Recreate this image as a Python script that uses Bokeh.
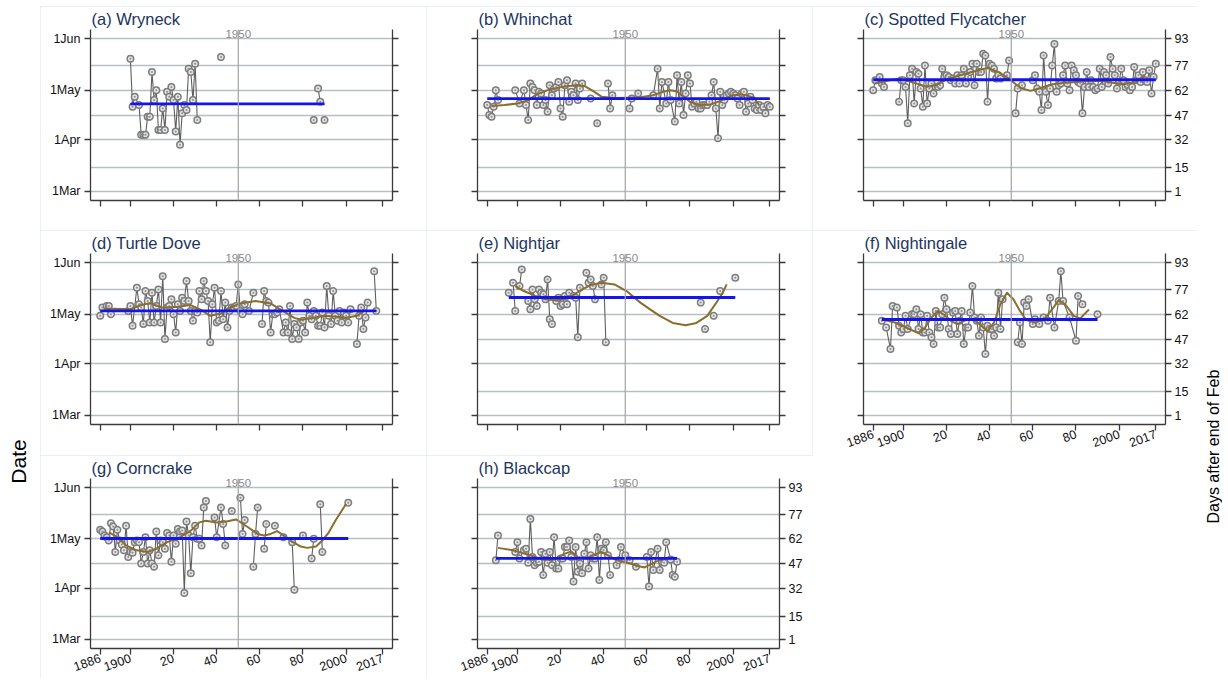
import math
import numpy as np
from bokeh.plotting import figure
from bokeh.models import FixedTicker, LinearAxis, Span, Label, Range1d, Spacer
from bokeh.layouts import row, column
from bokeh.embed import file_html
from bokeh.resources import INLINE
from bokeh.core.properties import value

FONT = "Liberation Sans"
N = None

# ---------------- axes / labels ----------------
X_TICKS = [1886, 1900, 1920, 1940, 1960, 1980, 2000, 2017]
X_TICK_LABELS = ["1886", "1900", "20", "40", "60", "80", "2000", "2017"]
DATE_TICKS = [1, 32, 62, 93]
DATE_LABELS = ["1Mar", "1Apr", "1May", "1Jun"]
DAY_TICKS = [1, 15, 32, 47, 62, 77, 93]
REF_YEAR = 1950

# ---------------- data (None = break in the connecting line) ----------------
a_title = "(a) Wryneck"
a_year = [1900, 1901, 1902, 1904, 1905, 1906, 1907, 1908, 1909, 1910, 1911, 1912, 1913, 1914, 1915,
          1916, 1917, 1918, 1919, 1920, 1921, 1922, 1923, 1924, 1925, 1926, 1927, 1928, 1929, 1930,
          1931, N, 1942, N, 1985, N, 1987, 1988, N, 1990]
a_day = [81, 52, 58, 53, 35, 35, 35, 46, 46, 73, 56, 62, 38, 38, 51,
         38, 61, 58, 64, 56, 37, 58, 29, 48, 53, 50, 75, 73, 56, 78,
         44, N, 82, N, 44, N, 63, 55, N, 44]
a_mean = 53.7
a_sm_year = []
a_sm_day = []

b_title = "(b) Whinchat"
b_year = ([1886, 1887, 1888, 1889, 1890, 1891, N, 1899, 1901, 1903] + list(range(1904, 1931)) +
          [N, 1934, N, 1937, N, 1942, 1943, 1944, N, 1952, 1953, N, 1956, N,
           1963, 1965, 1966, 1967, 1969, 1970, 1971, 1973] + list(range(1974, 2018)))
b_day = [53, 47, 46, 52, 62, 56, N, 62, 54, 62,
         53, 44, 66, 64, 62, 53, 61, 60, 53, 56, 49, 65, 59, 63, 64, 67, 51, 46, 65, 68,
         55, 61, 59, 66, 56, 63, 66,
         N, 57, N, 42, N, 66, 51, 59, N, 51, 57, N, 60, N,
         59, 75, 51, 67, 54, 67, 56, 43,
         71, 54, 67, 47, 60, 71, 66, 52, 54, 55, 51, 51, 53, 53, 53, 55, 59, 67, 51, 33,
         61, 53, 56, 59, 60, 61, 60, 59, 57, 53, 60, 61, 49, 54, 58, 56, 51, 50, 53, 50,
         52, 48, 53, 52]
b_mean = 56.9
b_sm_year = [1888, 1894, 1900, 1905, 1909, 1915, 1922, 1928, 1931, 1935, 1939, 1945, 1951, 1957,
             1963, 1968, 1971, 1974, 1977, 1980, 1985, 1990, 1994, 1999, 2003, 2007, 2010, 2012]
b_sm_day = [52.5, 53, 54, 56, 59.5, 62.5, 64.2, 65.2, 64.6, 61.6, 58.1, 57.3, 57.5, 57.7,
            59, 61.2, 62, 61.2, 58.1, 55, 52.9, 53.5, 55.5, 58.6, 59.6, 58.6, 57, 53]

c_title = "(c) Spotted Flycatcher"
c_year = ([1886, 1887, 1889, 1890, 1891, N] + list(range(1898, 1946)) +
          [1948, 1949, N, 1952, 1953, 1955, N] + list(range(1960, 2018)))
c_day = [62, 68, 70, 66, 64, N,
         55, 68, 68, 64, 42, 71, 75, 54, 73, 72, 63, 52, 77, 54, 63, 66, 60, 64, 64, 65,
         75, 70, 71, 70, 68, 69, 66, 71, 66, 71, 75, 66, 70, 73, 78, 65, 78, 73, 73, 84,
         83, 55, 78, 77, 75, 69, 71, 69,
         71, 80, N, 48, 63, 65, N,
         68, 71, 63, 61, 50, 83, 61, 53, 63, 77, 90, 61, 65, 66, 71, 77, 66, 62, 77, 74,
         71, 67, 66, 48, 64, 73, 64, 68, 64, 62, 63, 75, 64, 73, 71, 66, 82, 75, 71, 63,
         67, 75, 68, 64, 65, 62, 64, 76, 68, 71, 67, 73, 68, 67, 74, 60, 70, 78]
c_mean = 68.3
c_sm_year = [1887, 1892, 1898, 1905, 1911, 1916, 1920, 1926, 1931, 1936, 1939, 1944, 1948, 1952,
             1955, 1959, 1964, 1969, 1975, 1980, 1986, 1991, 1997, 2002, 2008, 2012]
c_sm_day = [66, 67.5, 69, 66.5, 64, 65.5, 68.5, 71, 72.7, 74.5, 75.4, 73, 69.7, 65.7,
            63, 61.6, 63.5, 65.6, 66.5, 67, 67.6, 67.7, 66.5, 65.6, 67, 71]

d_title = "(d) Turtle Dove"
d_year = ([1886, 1887, 1889, 1890, 1891, N, 1899, 1900, 1901] + list(range(1903, 1954)) +
          [1955, 1957, N] + list(range(1961, 1970)) + list(range(1971, 2003)) +
          [N] + list(range(2005, 2011)) + [N, 2013, 2014])
d_day = [61, 66, 67, 67, 62, N, 64, 67, 55,
         78, 68, 66, 56, 76, 70, 57, 75, 57, 67, 77, 57, 85, 47, 66, 67, 71, 62, 51, 68,
         64, 72, 70, 82, 70, 64, 58, 64, 63, 76, 71, 82, 76, 70, 45, 68, 78, 57, 58, 76,
         59, 69, 54, 64, 66, 66, 67, 80, 64, 62, 68,
         64, 75, N,
         56, 76, 70, 69, 51, 62, 62, 63, 65,
         51, 57, 51, 67, 47, 56, 54, 47, 57, 58, 51, 69, 61, 59, 64, 61, 55, 55, 63, 54,
         79, 61, 56, 76, 61, 58, 64, 57, 63, 61, 57, 65,
         N, 44, 61, 66, 53, 60, 69, N, 88, 64]
d_mean = 64.0
d_sm_year = [1888, 1900, 1905, 1909, 1915, 1922, 1928, 1933, 1937, 1942, 1946, 1951, 1958, 1965,
             1970, 1976, 1979, 1983, 1990, 1996, 2000, 2005, 2008]
d_sm_day = [65.4, 65, 67.5, 68.7, 65.9, 66.5, 67.5, 64.5, 61, 62.4, 65.9, 68.5, 70, 68.5,
            64.4, 59.8, 58.6, 59.4, 61, 60.4, 59.8, 61, 63.4]

e_title = "(e) Nightjar"
e_year = ([1896, N, 1898, 1899, N, 1901, 1902, N] + list(range(1905, 1917)) + [N] +
          list(range(1918, 1925)) + [1926, 1927, 1928, 1929, N] + list(range(1932, 1937)) +
          [N, 1939, 1940, 1941, N, 1985, N, 1987, N, 1991, N, 1994, N, 2001])
e_day = [75, N, 81, 64, N, 79, 89, N,
         70, 65, 77, 71, 67, 77, 75, 74, 71, 83, 59, 56, N,
         70, 72, 67, 68, 73, 68, 75, 73, 72, 48, 78, N,
         87, 81, 83, 79, 71,
         N, 80, 84, 45, N, 69, N, 53, N, 61, N, 76, N, 84]
e_mean = 72.1
e_sm_year = [1899, 1903, 1908, 1913, 1917, 1921, 1926, 1930, 1934, 1939, 1945, 1951, 1957, 1962,
             1966, 1972, 1978, 1983, 1988, 1992, 1995, 1997]
e_sm_day = [79, 76, 73.2, 71, 70.5, 71, 73.6, 77, 79.6, 81, 80, 75.6, 69, 64.5,
            61, 56.7, 55.3, 56.7, 61, 68.5, 74.5, 80]

f_title = "(f) Nightingale"
f_year = ([1890, 1892, 1894, 1895, 1897, 1898, 1899, 1900, 1901, 1902] + list(range(1904, 1947)) +
          [N, 1953, 1954, 1955, 1956, 1957, 1958, 1960, 1961, 1963, 1965, 1967, 1968, 1970,
           1972, 1973, 1974, 1977, 1980, 1981, 1983, N, 1990])
f_day = [58, 54, 41, 67, 66, 55, 51, 53, 61, 53,
         62, 62, 65, 53, 62, 51, 51, 61, 51, 48, 44, 64, 54, 54, 62, 72, 65, 53, 50, 63,
         64, 50, 58, 64, 44, 54, 54, 63, 79, 60, 58, 49, 60, 54, 38, 55, 53, 53, 49, 54,
         75, 53, 71,
         N, 45, 57, 44, 69, 67, 71, 56, 59, 56, 60, 58, 72, 54,
         70, 88, 70, 60, 46, 73, 68, N, 62]
f_mean = 58.8
f_sm_year = [1890, 1896, 1902, 1907, 1910, 1913, 1916, 1919, 1922, 1925, 1929, 1932, 1935, 1939,
             1942, 1945, 1948, 1951, 1954, 1957, 1961, 1965, 1969, 1972, 1975, 1979, 1982, 1986]
f_sm_day = [58.8, 57, 53.5, 50.5, 54, 60, 64, 61.5, 58, 56, 58.4, 59, 56.3, 51.7,
            57, 68, 75, 71, 64, 58.5, 57, 58.5, 65, 70.5, 68, 61, 59.5, 64.8]

g_title = "(g) Corncrake"
g_year = (list(range(1886, 1936)) +
          [N, 1939, 1940, 1942, 1943, 1944, N, 1947, N, 1951, 1952, 1953, N, 1957, 1958, 1959,
           N, 1962, 1963, N, 1967, N, 1971, N, 1975, 1976, N, 1980, N, 1984, 1985, N,
           1988, 1989, N, 2001])
g_day = [67.5, 66.5, 64, 63, 61, 71.5, 69.5, 54, 67.5, 61,
         58.5, 55, 70, 51, 54, 53.5, 60, 61, 60, 47,
         54, 63, 47, 55, 47, 45, 66.5, 52, 61, 60,
         56, 65.5, 64, 48, 64, 59, 68, 66.5, 67, 29,
         72.5, 64, 41, 63, 70, 62, 62, 58, 81, 85,
         N, 75, 63, 81, 71, 58, N, 79, N, 87, 65, 73.5, N, 45, 65, 81,
         N, 56, 71, N, 70, N, 63, N, 60, 31, N, 64, N, 50, 62, N,
         83, 54, N, 84]
g_mean = 62.2
g_sm_year = [1890, 1894, 1898, 1903, 1908, 1912, 1917, 1923, 1928, 1932, 1935, 1940, 1945, 1949,
             1954, 1959, 1962, 1965, 1968, 1971, 1974, 1979, 1982, 1986, 1989, 1992, 1995, 2000]
g_sm_day = [66, 63, 58, 55, 54, 56, 60, 63, 67, 72, 73, 72, 72.7, 73.8,
            69.5, 65, 64, 65, 66.7, 64, 61, 57.3, 56.5, 57.3, 61, 66, 73, 83.3]

h_title = "(h) Blackcap"
h_year = ([1890, 1891, N, 1899, 1900, 1901] + list(range(1903, 1944)) +
          [N, 1946, 1947, 1948, 1950, 1951, 1952, N, 1955, N,
           1960, 1961, 1962, 1963, 1965, 1966, 1967, 1968, 1969, 1971, 1972, 1973, 1974])
h_day = [49, 64, N, 54, 60, 50,
         55, 56, 47.5, 74, 51, 46, 47.5, 48, 54, 40,
         53, 47.5, 54, 46, 63, 44, 44, 50, 50, 57,
         57, 61, 51, 36, 57, 42, 47, 41, 53, 60,
         44, 52, 50, 50, 63, 37, 56, 55, 60, 52,
         40,
         N, 46, 49, 57, 52, 49, 49, N, 45, N,
         51, 33, 54, 43, 56, 43, 48, 47.5, 60, 49.5, 40, 39, 48]
h_mean = 50.1
h_sm_year = [1891, 1898, 1906, 1912, 1917, 1922, 1925, 1928, 1932, 1935, 1939, 1942, 1946, 1951,
             1956, 1959, 1962, 1965, 1969, 1973]
h_sm_day = [56.5, 55, 52, 49.3, 49.3, 53, 54.3, 51, 50, 52, 54, 52, 49, 47.5,
            45.5, 44.6, 46.6, 48.6, 50, 50.5]

# ---------------- styling ----------------
TOP_PAD = 6
ROW_H = [224, 225, 223]
COL_BORDERS = [(50, 34), (51, 33), (51, 33)]
PANEL_W = 386
TOP_B = 23
FRAME_H = 171
X_RANGE = (1881.5, 2021.5)
Y_RANGE = (-4.7, 98.7)
GRID_C = "#b6bec1"
AXIS_C = "#3a3a3a"


def make_panel(title, years, days, mean, sm_year, sm_day, col, rowi,
               left_labels, right_labels, x_labels):
    assert len(years) == len(days), title
    h = ROW_H[rowi]
    bl, br = COL_BORDERS[col]
    p = figure(width=PANEL_W, height=h, x_range=Range1d(*X_RANGE), y_range=Range1d(*Y_RANGE),
               output_backend="svg", toolbar_location=None, tools="",
               min_border_left=bl, min_border_right=br, min_border_top=TOP_B,
               min_border_bottom=h - TOP_B - FRAME_H)
    p.outline_line_color = None
    p.background_fill_color = "white"
    p.border_fill_color = "white"
    p.styles = {"outline": "1px solid #e2ecef", "outline-offset": "-1px"}

    p.title.text = title
    p.title.text_font = FONT
    p.title.text_font_size = "16.5px"
    p.title.text_font_style = "normal"
    p.title.text_color = "#1c3560"
    p.title.align = "left"
    p.title.offset = 1
    p.title.standoff = 3

    # x axis
    xa = p.xaxis[0]
    xa.ticker = FixedTicker(ticks=X_TICKS)
    if x_labels:
        xa.major_label_overrides = {t: l for t, l in zip(X_TICKS, X_TICK_LABELS)}
    else:
        xa.major_label_overrides = {t: "" for t in X_TICKS}
    xa.major_label_orientation = 0.35
    xa.major_label_text_font = FONT
    xa.major_label_text_font_size = "12.5px"
    xa.major_label_text_color = "#111111"
    xa.major_label_standoff = 3

    # left axis (dates)
    ya = p.yaxis[0]
    ya.ticker = FixedTicker(ticks=DATE_TICKS)
    if left_labels:
        ya.major_label_overrides = {t: l for t, l in zip(DATE_TICKS, DATE_LABELS)}
    else:
        ya.major_label_overrides = {t: "" for t in DATE_TICKS}
    ya.major_label_text_font = FONT
    ya.major_label_text_font_size = "12.5px"
    ya.major_label_text_color = "#111111"
    ya.major_label_standoff = 4

    # right axis (days after end of Feb)
    ra = LinearAxis(ticker=FixedTicker(ticks=DAY_TICKS))
    if not right_labels:
        ra.major_label_overrides = {t: "" for t in DAY_TICKS}
    ra.major_label_text_font = FONT
    ra.major_label_text_font_size = "12.5px"
    ra.major_label_text_color = "#111111"
    ra.major_label_standoff = 3
    p.add_layout(ra, "right")

    for ax in (xa, ya, ra):
        ax.axis_line_color = AXIS_C
        ax.axis_line_width = 1.3
        ax.major_tick_line_color = AXIS_C
        ax.major_tick_line_width = 1.3
        ax.major_tick_out = 6
        ax.major_tick_in = 0
        ax.minor_tick_line_color = None

    p.xgrid.visible = False
    p.ygrid.ticker = FixedTicker(ticks=DAY_TICKS)
    p.ygrid.grid_line_color = GRID_C
    p.ygrid.grid_line_width = 1.6

    p.add_layout(Span(location=REF_YEAR, dimension="height", line_color="#a3a3a3", line_width=1.2))
    p.add_layout(Label(x=REF_YEAR, y=Y_RANGE[1], text=str(REF_YEAR), text_align="center",
                       text_baseline="top", text_font=FONT, text_font_size="11.5px",
                       text_color="#8a8a8a"))

    lx = [np.nan if v is None else v for v in years]
    ly = [np.nan if v is None else v for v in days]
    p.line(lx, ly, line_color="#5e5e5e", line_width=1.1)
    px = [y for y in years if y is not None]
    py = [d for d in days if d is not None]
    p.scatter(px, py, marker="circle", size=6.5, fill_color="#e4e4e4",
              line_color="#7c7c7c", line_width=1.5)
    p.scatter(px, py, marker="circle", size=2, fill_color="#8c8c8c", line_color=None)

    if sm_year:
        p.line(sm_year, sm_day, line_color="#8a6e2c", line_width=2, line_join="round")
    p.line([min(px), max(px)], [mean, mean], line_color="#1414f0", line_width=2.8)
    return p


pa = make_panel(a_title, a_year, a_day, a_mean, a_sm_year, a_sm_day, 0, 0, True, False, False)
pb = make_panel(b_title, b_year, b_day, b_mean, b_sm_year, b_sm_day, 1, 0, False, False, False)
pc = make_panel(c_title, c_year, c_day, c_mean, c_sm_year, c_sm_day, 2, 0, False, True, False)
pd = make_panel(d_title, d_year, d_day, d_mean, d_sm_year, d_sm_day, 0, 1, True, False, False)
pe = make_panel(e_title, e_year, e_day, e_mean, e_sm_year, e_sm_day, 1, 1, False, False, False)
pf = make_panel(f_title, f_year, f_day, f_mean, f_sm_year, f_sm_day, 2, 1, False, True, True)
pg = make_panel(g_title, g_year, g_day, g_mean, g_sm_year, g_sm_day, 0, 2, True, False, True)
ph = make_panel(h_title, h_year, h_day, h_mean, h_sm_year, h_sm_day, 1, 2, False, True, True)
sp = Spacer(width=PANEL_W, height=ROW_H[2])
top_sp = Spacer(width=3 * PANEL_W, height=TOP_PAD)

TOTAL_H = TOP_PAD + sum(ROW_H)


def side_label(text, width, xfrac, yfrac, size):
    f = figure(width=width, height=TOTAL_H, x_range=Range1d(0, 1), y_range=Range1d(0, 1),
               x_axis_type=None, y_axis_type=None, output_backend="svg",
               toolbar_location=None, tools="", min_border=0)
    f.outline_line_color = None
    f.text(x=[xfrac], y=[yfrac], text=[text], angle=math.pi / 2, text_align="center",
           text_baseline="middle", text_font=value(FONT), text_font_size=size,
           text_color="#000000")
    return f


left_f = side_label("Date", 40, 0.45, 0.32, "21px")
right_f = side_label("Days after end of Feb", 24, 0.62, 0.342, "16px")

layout = row(left_f,
             column(top_sp, row(pa, pb, pc), row(pd, pe, pf), row(pg, ph, sp)),
             right_f)

open("out.html", "w").write(file_html(layout, INLINE))
